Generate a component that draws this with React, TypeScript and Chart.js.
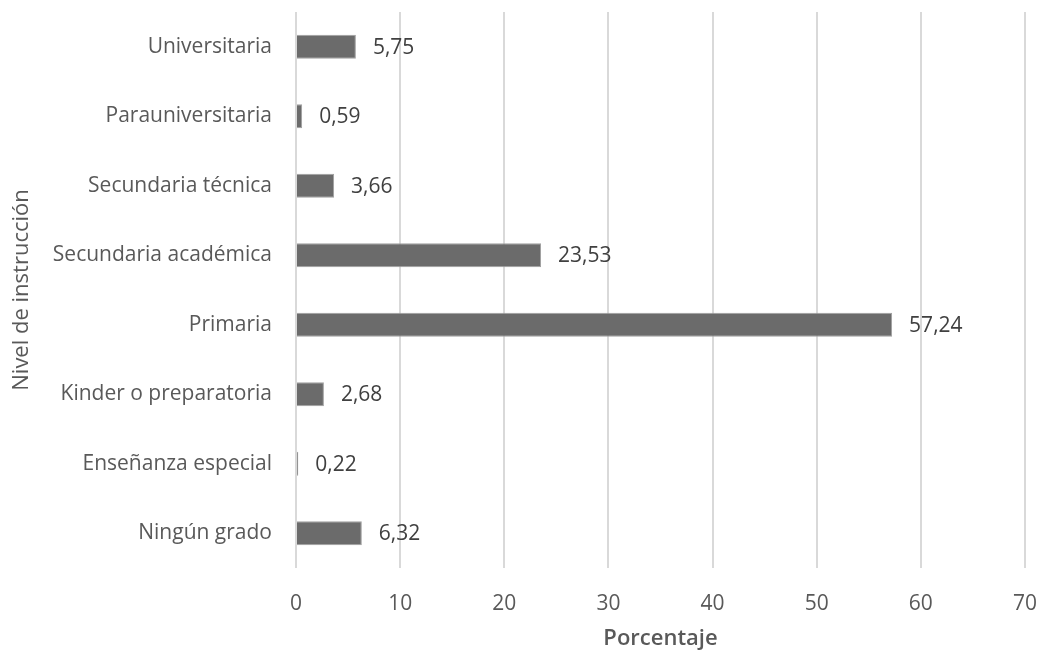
import React, { useEffect, useRef } from "react";
import { Chart, registerables } from "chart.js";

Chart.register(...registerables);

const categories = [
  "Universitaria",
  "Parauniversitaria",
  "Secundaria técnica",
  "Secundaria académica",
  "Primaria",
  "Kinder o preparatoria",
  "Enseñanza especial",
  "Ningún grado",
];
const values = [5.75, 0.59, 3.66, 23.53, 57.24, 2.68, 0.22, 6.32];
const xTicks = [0, 10, 20, 30, 40, 50, 60, 70];

const FONT = "'Open Sans', 'Noto Sans', sans-serif";
const TEXT = "#595959";

const valueLabels = {
  id: "valueLabels",
  afterDatasetsDraw(chart: any) {
    const { ctx } = chart;
    const meta = chart.getDatasetMeta(0);
    ctx.save();
    ctx.font = `21px ${FONT}`;
    ctx.fillStyle = "#404040";
    ctx.textAlign = "left";
    ctx.textBaseline = "middle";
    meta.data.forEach((bar: any, i: number) => {
      const v = values[i];
      ctx.fillText(v.toFixed(2).replace(".", ","), bar.x + 17, bar.y + 1);
    });
    ctx.restore();
  },
};

export default function App() {
  const ref = useRef<HTMLCanvasElement>(null);
  useEffect(() => {
    document.body.style.margin = "0";
    const chart = new Chart(ref.current!, {
      type: "bar",
      data: {
        labels: categories,
        datasets: [
          {
            data: values,
            backgroundColor: "#6b6b6b",
            borderColor: "#a0a0a0",
            borderWidth: 1,
            barPercentage: 0.345,
            categoryPercentage: 1,
          },
        ],
      },
      options: {
        indexAxis: "y",
        animation: false,
        responsive: false,
        maintainAspectRatio: false,
        layout: { padding: { top: 12, right: 17, bottom: 0, left: 0 } },
        plugins: { legend: { display: false }, tooltip: { enabled: false } },
        scales: {
          x: {
            min: 0,
            max: 70,
            afterBuildTicks: (s: any) => {
              s.ticks = xTicks.map((v) => ({ value: v }));
            },
            grid: { color: "#d9d9d9", lineWidth: 2, drawTicks: false },
            border: { display: false },
            ticks: { color: TEXT, font: { family: FONT, size: 21 }, padding: 23 },
            title: {
              display: true,
              text: "Porcentaje",
              color: TEXT,
              font: { family: FONT, size: 22, weight: "600" },
              padding: { top: 0, bottom: -1 },
            },
            afterFit: (s: any) => {
              s.height = 83;
              s.paddingLeft = 0;
              s.paddingRight = 0;
            },
          },
          y: {
            grid: { display: false },
            border: { display: false },
            ticks: { color: TEXT, font: { family: FONT, size: 21 }, padding: 16 },
            title: {
              display: true,
              text: "Nivel de instrucción",
              color: TEXT,
              font: { family: FONT, size: 22 },
              padding: { top: 9, bottom: 0 },
            },
            afterFit: (s: any) => {
              s.width = 296;
              s.paddingTop = 0;
              s.paddingBottom = 0;
            },
          },
        },
      },
      plugins: [valueLabels],
    });
    return () => chart.destroy();
  }, []);
  return (
    <div style={{ width: 1042, height: 651 }}>
      <canvas ref={ref} width={1042} height={651} />
    </div>
  );
}
